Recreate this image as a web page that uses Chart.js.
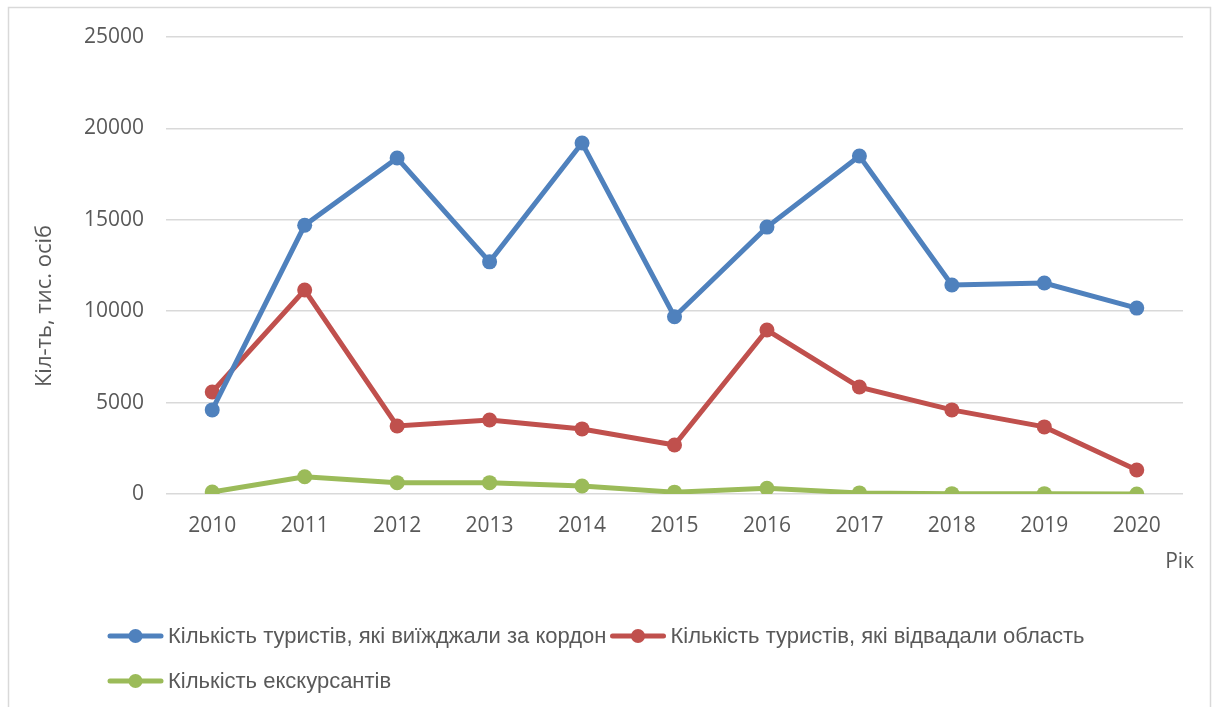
<!DOCTYPE html>
<html>
<head>
<meta charset="utf-8">
<script src="https://cdn.jsdelivr.net/npm/chart.js@4/dist/chart.umd.min.js"></script>
<style>
  html, body { margin: 0; padding: 0; background: #ffffff; }
  #wrap { width: 1216px; height: 707px; }
</style>
</head>
<body>
<div id="wrap"><canvas id="c" width="1216" height="707"></canvas></div>
<script>
const years = ['2010','2011','2012','2013','2014','2015','2016','2017','2018','2019','2020'];
const abroad = [4600, 14700, 18380, 12700, 19200, 9700, 14600, 18490, 11430, 11540, 10170];
const region = [5580, 11160, 3720, 4050, 3560, 2680, 8970, 5850, 4600, 3670, 1310];
const excursion = [110, 940, 620, 620, 440, 100, 310, 60, 20, 20, 0];
const seriesNames = [
  'Кількість туристів, які виїжджали за кордон',
  'Кількість туристів, які відвадали область',
  'Кількість екскурсантів'
];
const seriesColors = ['#4F81BD', '#C0504D', '#9BBB59'];
const yTitle = 'Кіл-ть, тис. осіб';
const xTitle = 'Рік';

const tickFont = { family: '"Open Sans", "DejaVu Sans", sans-serif', size: 21 };
const tickColor = '#595959';

const framePlugin = {
  id: 'frame',
  beforeDraw(chart) {
    const ctx = chart.ctx;
    ctx.save();
    ctx.fillStyle = '#ffffff';
    ctx.fillRect(0, 0, chart.width, chart.height);
    ctx.strokeStyle = '#d9d9d9';
    ctx.lineWidth = 1.5;
    ctx.strokeRect(8.5, 7.5, 1202, 760);
    ctx.restore();
  }
};

const titlesPlugin = {
  id: 'titles',
  afterDraw(chart) {
    const ctx = chart.ctx;
    ctx.save();
    ctx.fillStyle = tickColor;
    ctx.font = '22px "Open Sans", "DejaVu Sans", sans-serif';
    ctx.textBaseline = 'middle';
    // y-axis title
    ctx.save();
    ctx.translate(45, 306);
    ctx.rotate(-Math.PI / 2);
    ctx.textAlign = 'center';
    ctx.fillText(yTitle, 0, 0);
    ctx.restore();
    // x-axis title
    ctx.font = '21px "Open Sans", "DejaVu Sans", sans-serif';
    ctx.textAlign = 'right';
    ctx.fillText(xTitle, 1194, 562);
    ctx.restore();
  }
};

const legendPlugin = {
  id: 'customLegend',
  afterDraw(chart) {
    const ctx = chart.ctx;
    ctx.save();
    ctx.font = '22px "Liberation Sans", "Arimo", sans-serif';
    ctx.textBaseline = 'middle';
    ctx.textAlign = 'left';
    const rows = [[0, 1], [2]];
    const rowY = [636, 681];
    rows.forEach((row, ri) => {
      let x = 108;
      const y = rowY[ri];
      row.forEach(i => {
        const ds = chart.data.datasets[i];
        ctx.strokeStyle = ds.borderColor;
        ctx.lineWidth = 5;
        ctx.lineCap = 'round';
        ctx.beginPath();
        ctx.moveTo(x + 2, y);
        ctx.lineTo(x + 53, y);
        ctx.stroke();
        ctx.fillStyle = ds.borderColor;
        ctx.beginPath();
        ctx.arc(x + 27.5, y, 7, 0, Math.PI * 2);
        ctx.fill();
        ctx.fillStyle = tickColor;
        ctx.fillText(ds.label, x + 60, y + 1);
        x += 60 + ctx.measureText(ds.label).width + 4;
      });
    });
    ctx.restore();
  }
};

const datasets = [abroad, region, excursion].map((vals, i) => ({
  label: seriesNames[i],
  data: vals,
  borderColor: seriesColors[i],
  backgroundColor: seriesColors[i],
  borderWidth: 5,
  pointRadius: 7.5,
  pointHoverRadius: 7.5,
  pointBorderWidth: 0,
  tension: 0
}));

new Chart(document.getElementById('c'), {
  type: 'line',
  data: { labels: years, datasets },
  options: {
    responsive: false,
    animation: false,
    devicePixelRatio: 1,
    layout: { padding: { left: 0, top: 37, right: 33, bottom: 0 } },
    plugins: {
      legend: { display: false },
      tooltip: { enabled: false }
    },
    scales: {
      x: {
        offset: true,
        grid: { display: false, drawTicks: false },
        border: { display: false },
        ticks: { font: tickFont, color: tickColor, padding: 19, maxRotation: 0 },
        afterFit(scale) { scale.height = 213; }
      },
      y: {
        min: 0,
        max: 25000,
        ticks: {
          stepSize: 5000, font: tickFont, color: tickColor, padding: 22,
          callback: (v) => String(v)
        },
        grid: { color: '#d9d9d9', lineWidth: 1.5, drawTicks: false },
        border: { display: false },
        afterFit(scale) { scale.width = 166; }
      }
    }
  },
  plugins: [framePlugin, titlesPlugin, legendPlugin]
});
</script>
</body>
</html>
